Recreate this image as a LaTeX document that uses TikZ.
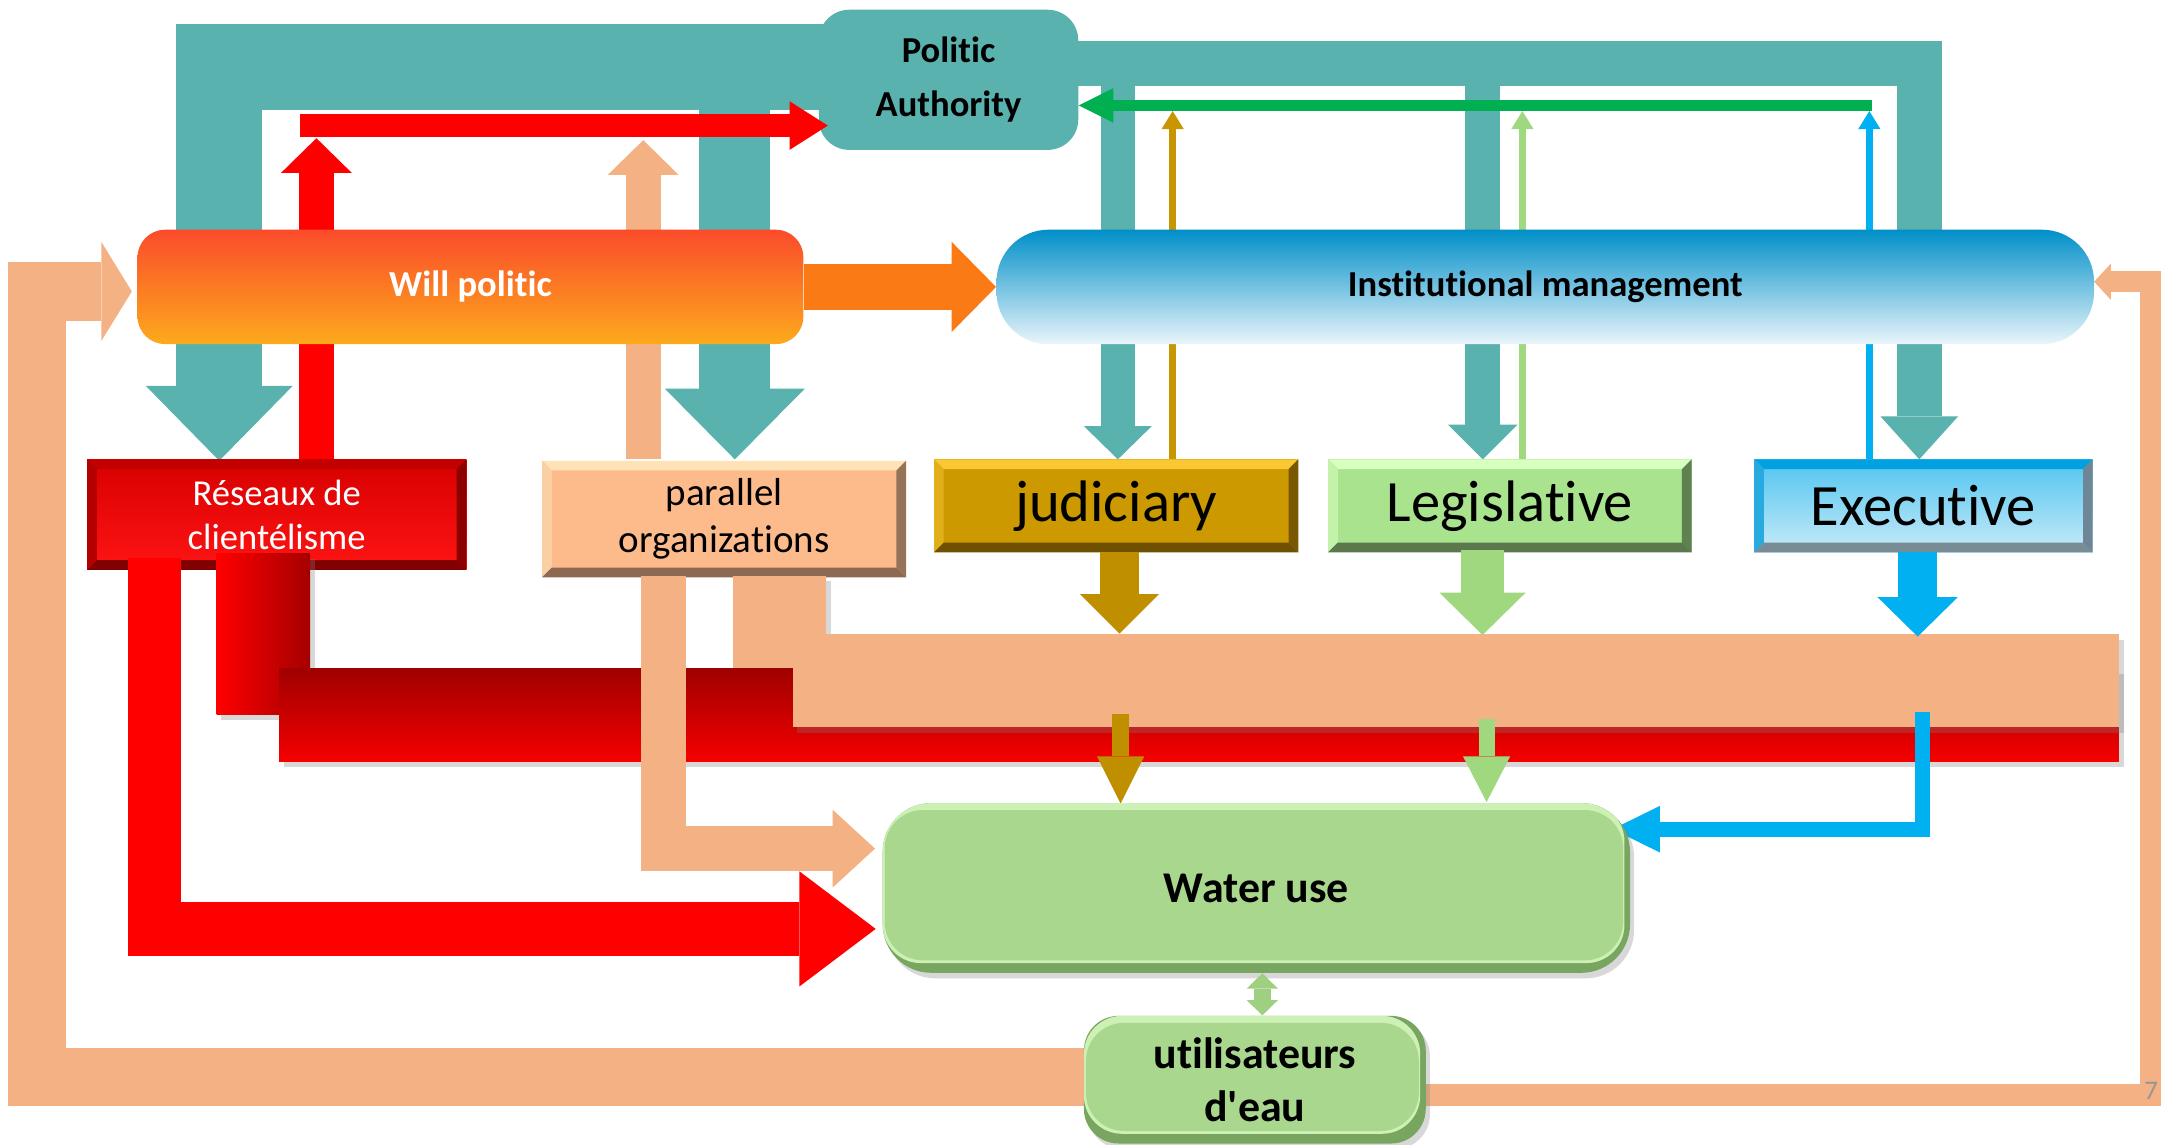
\documentclass[tikz,border=0pt]{standalone}
\usepackage{fontspec}
\setmainfont{Carlito}[Ligatures={NoCommon,NoContextual}]
\newfontfamily\plaincf{Carlito}[Ligatures={NoCommon,NoContextual}]
\usetikzlibrary{arrows.meta,shadows,calc}
\definecolor{teal1}{RGB}{89,178,174}
\definecolor{peach}{RGB}{243,177,132}
\definecolor{redA}{RGB}{255,0,0}
\definecolor{grnA}{RGB}{0,176,80}
\definecolor{goldA}{RGB}{192,143,0}
\definecolor{goldT}{RGB}{200,150,0}
\definecolor{lgrn}{RGB}{160,216,128}
\definecolor{bluA}{RGB}{0,176,240}
\definecolor{orgA}{RGB}{250,122,22}
\definecolor{wgrn}{RGB}{170,215,142}
\definecolor{wgrnD}{RGB}{120,165,95}
\definecolor{wgrnL}{RGB}{205,240,180}
\definecolor{dblA}{RGB}{159,207,128}
\definecolor{wpT}{RGB}{251,75,43}
\definecolor{wpM}{RGB}{252,122,22}
\definecolor{wpB}{RGB}{252,170,28}
\definecolor{imT}{RGB}{0,143,200}
\definecolor{imM}{RGB}{130,196,226}
\definecolor{imB}{RGB}{234,245,251}
\definecolor{resT}{RGB}{215,0,0}
\definecolor{resB}{RGB}{255,20,20}
\definecolor{resbT}{RGB}{195,0,0}
\definecolor{resbL}{RGB}{180,0,0}
\definecolor{resbB}{RGB}{130,0,0}
\definecolor{resbR}{RGB}{140,0,0}
\definecolor{parF}{RGB}{253,187,140}
\definecolor{parbT}{RGB}{255,226,182}
\definecolor{parbL}{RGB}{250,207,162}
\definecolor{parbB}{RGB}{140,105,80}
\definecolor{parbR}{RGB}{150,115,88}
\definecolor{judF}{RGB}{204,153,0}
\definecolor{judbT}{RGB}{250,200,50}
\definecolor{judbL}{RGB}{225,175,25}
\definecolor{judbB}{RGB}{110,80,0}
\definecolor{judbR}{RGB}{120,88,0}
\definecolor{legF}{RGB}{169,227,142}
\definecolor{legbT}{RGB}{215,255,190}
\definecolor{legbL}{RGB}{195,242,170}
\definecolor{legbB}{RGB}{90,120,75}
\definecolor{legbR}{RGB}{95,128,80}
\definecolor{exeT}{RGB}{80,196,240}
\definecolor{exeB}{RGB}{200,235,248}
\definecolor{exebT}{RGB}{0,160,225}
\definecolor{exebL}{RGB}{40,170,225}
\definecolor{exebB}{RGB}{120,140,150}
\definecolor{exebR}{RGB}{110,135,150}
\definecolor{redD}{RGB}{165,0,0}
\definecolor{rbT}{RGB}{160,0,0}
\definecolor{rbM}{RGB}{238,0,0}
\definecolor{rbB}{RGB}{246,0,0}
\definecolor{pgGray}{RGB}{150,150,150}
\newcommand\myfs[2]{\fontsize{#1}{#2}\selectfont}
\tikzset{
 blk/.style n args={4}{draw=#1,line width=#2,-{Triangle[width=#3,length=#4,line width=0pt]}},
 bvbox/.style={rectangle,inner sep=0pt,align=center},
 bevel/.style n args={4}{path picture={
   \fill[#1] (path picture bounding box.north west) -- (path picture bounding box.north east) -- ([shift={(-0.14cm,-0.14cm)}]path picture bounding box.north east) -- ([shift={(0.14cm,-0.14cm)}]path picture bounding box.north west) -- cycle;
   \fill[#2] (path picture bounding box.north west) -- ([shift={(0.14cm,-0.14cm)}]path picture bounding box.north west) -- ([shift={(0.14cm,0.14cm)}]path picture bounding box.south west) -- (path picture bounding box.south west) -- cycle;
   \fill[#3] (path picture bounding box.south west) -- ([shift={(0.14cm,0.14cm)}]path picture bounding box.south west) -- ([shift={(-0.14cm,0.14cm)}]path picture bounding box.south east) -- (path picture bounding box.south east) -- cycle;
   \fill[#4] (path picture bounding box.north east) -- (path picture bounding box.south east) -- ([shift={(-0.14cm,0.14cm)}]path picture bounding box.south east) -- ([shift={(-0.14cm,-0.14cm)}]path picture bounding box.north east) -- cycle;
 }},
 greenbox/.style={rectangle,fill=wgrnD,align=center,inner sep=0pt,
   drop shadow={opacity=0.3,shadow xshift=0.06cm,shadow yshift=-0.08cm},
   path picture={
     \fill[wgrnL,rounded corners=0.55cm] (path picture bounding box.north west) rectangle ([shift={(-0.08cm,0.14cm)}]path picture bounding box.south east);
     \fill[wgrn,rounded corners=0.55cm] ([shift={(0.03cm,-0.1cm)}]path picture bounding box.north west) rectangle ([shift={(-0.1cm,0.18cm)}]path picture bounding box.south east);
   }},
 shad/.style={drop shadow={opacity=0.3,shadow xshift=0.07cm,shadow yshift=-0.08cm}},
}
\begin{document}
\begin{tikzpicture}[x=0.02cm,y=-0.02cm]
\useasboundingbox (0,0) rectangle (1568,825);
\fill[white] (0,0) rectangle (1568,825);

% ---------- named coordinates for free ends ----------
\coordinate (tA) at (620,48);
\coordinate (resIn) at (158,332);
\coordinate (parTop) at (529.5,48);
\coordinate (tB) at (760,45.75);
\coordinate (legT) at (1068.5,331);
\coordinate (jUp) at (845,331);
\coordinate (lUp) at (1097,331);
\coordinate (eUp) at (1347,331);
\coordinate (gEnd) at (1349,76);
\coordinate (rUp) at (228,331);
\coordinate (rTop) at (228,99.6);
\coordinate (r2s) at (216,90.5);
\coordinate (r2e) at (596.5,90.5);
\coordinate (pUp) at (463.5,331);
\coordinate (pTop) at (463.5,101);
\coordinate (uL) at (904,776);
\coordinate (lc) at (26.75,210);
\coordinate (wpIn) at (95,210);
\coordinate (uR) at (904,789);
\coordinate (rc) at (1549.5,203);
\coordinate (imIn) at (1509,203);

% ---------- teal frames ----------
\draw[blk={teal1}{1.24cm}{2.12cm}{1.08cm}] (tA) -| (resIn);
\draw[blk={teal1}{1.02cm}{2.02cm}{1.02cm}] (parTop) -- (parTop |- 0,331);
\draw[blk={teal1}{0.65cm}{1.12cm}{0.62cm}] (tB) -| (1383,331);
\draw[blk={teal1}{0.5cm}{0.98cm}{0.48cm}] (805.5,46) -- (805.5,331);
\draw[blk={teal1}{0.5cm}{1cm}{0.5cm}] (legT |- tB) -- (legT);

% ---------- Politic Authority ----------
\node[rectangle,rounded corners=0.44cm,fill=teal1,minimum width=3.74cm,minimum height=2.02cm,align=center,inner sep=0pt,font=\plaincf\bfseries\myfs{15}{22}] (PA) at (683.5,57.5) {Politic\\Authority};

% thin up arrows
\draw[blk={goldT}{0.1cm}{0.32cm}{0.26cm}] (jUp) -- (jUp |- 0,80);
\draw[blk={lgrn}{0.1cm}{0.32cm}{0.26cm}] (lUp) -- (lUp |- 0,80);
\draw[blk={bluA}{0.1cm}{0.32cm}{0.26cm}] (eUp) -- (eUp |- 0,80);
\draw[blk={grnA}{0.16cm}{0.5cm}{0.5cm}] (gEnd) -- (PA.east |- gEnd);

% red and peach up arrows
\draw[blk={redA}{0.51cm}{1.02cm}{0.5cm}] (rUp) -- (rTop);
\draw[blk={redA}{0.34cm}{0.7cm}{0.55cm}] (r2s) -- (r2e);
\draw[blk={peach}{0.5cm}{1.02cm}{0.5cm}] (pUp) -- (pTop);

% peach feedback loops
\draw[blk={peach}{0.84cm}{1.43cm}{0.44cm}] (uL) -| (lc) -- (wpIn);
\draw[blk={peach}{0.31cm}{0.52cm}{0.24cm}] (uR) -| (rc) -- (imIn);

% ---------- Will politic / Institutional management ----------
\node[rectangle,rounded corners=0.4cm,minimum width=9.6cm,minimum height=1.65cm,inner sep=0pt,
  top color=wpT,middle color=wpM,bottom color=wpB,
  text=white,font=\plaincf\bfseries\myfs{15}{18}] (WP) at (339,206.75) {Will politic};
\node[rectangle,rounded corners=0.75cm,minimum width=15.82cm,minimum height=1.65cm,inner sep=0pt,
  top color=imT,middle color=imM,bottom color=imB,
  font=\plaincf\bfseries\myfs{15}{18}] (IM) at (1113.5,206.75) {Institutional management};
\draw[blk={orgA}{0.66cm}{1.3cm}{0.64cm}] (WP.east) -- (IM.west);

% ---------- five bevelled boxes ----------
\node[bvbox,minimum width=5.466cm,minimum height=1.594cm,top color=resT,bottom color=resB,
  bevel={resbT}{resbL}{resbB}{resbR},
  text=white,font=\plaincf\myfs{15}{18}] (RES) at (199.35,370.85) {Réseaux de\\clientélisme};
\node[bvbox,minimum width=5.248cm,minimum height=1.68cm,fill=parF,
  bevel={parbT}{parbL}{parbB}{parbR},
  font=\plaincf\myfs{16}{19.3}] (PAR) at (521.8,374) {parallel\\organizations};
\node[bvbox,minimum width=5.252cm,minimum height=1.34cm,fill=judF,
  bevel={judbT}{judbL}{judbB}{judbR},
  font=\plaincf\myfs{24}{28}] (JUD) at (804.3,364.5) {\raisebox{-2pt}{judiciary}};
\node[bvbox,minimum width=5.24cm,minimum height=1.34cm,fill=legF,
  bevel={legbT}{legbL}{legbB}{legbR},
  font=\plaincf\myfs{24}{28}] (LEG) at (1088,364.5) {\raisebox{-2pt}{Legislative}};
\node[bvbox,minimum width=4.88cm,minimum height=1.34cm,top color=exeT,bottom color=exeB,
  bevel={exebT}{exebL}{exebB}{exebR},
  font=\plaincf\myfs{24}{28}] (EXE) at (1386,364.5) {\raisebox{-2pt}{Executive}};

% ---------- bars ----------
\node[rectangle,inner sep=0pt,minimum width=1.34cm,minimum height=1.34cm,fill=peach,shad] (PV) at (561.5,448.5) {};
\node[rectangle,inner sep=0pt,minimum width=1.35cm,minimum height=2.32cm,left color=redA,right color=redD,shad] (RV) at (189.75,457) {};
\node[rectangle,inner sep=0pt,minimum width=26.52cm,minimum height=1.34cm,shad,
  top color=rbT,middle color=rbM,bottom color=rbB] (RB) at (864,515.5) {};
\node[rectangle,inner sep=0pt,minimum width=19.12cm,minimum height=1.34cm,fill=peach,shad] (PB) at (1049,490.5) {};

% ---------- big L arrows ----------
\draw[blk={redA}{0.77cm}{1.66cm}{1.1cm}] (111.2,402) |- (631,669.35);
\draw[blk={peach}{0.64cm}{1.12cm}{0.61cm}] (478,415) |- (630.5,611.5);

% ---------- arrows from the three powers ----------
\draw[blk={goldA}{0.57cm}{1.14cm}{0.57cm}] (806.75,398) -- (806.75,456.6);
\draw[blk={lgrn}{0.61cm}{1.24cm}{0.61cm}] (1068.3,396) -- (1068.3,457.6);
\draw[blk={bluA}{0.57cm}{1.16cm}{0.57cm}] (1381.85,398) -- (1381.85,458.7);
\draw[blk={goldA}{0.24cm}{0.68cm}{0.68cm}] (807.5,514.6) -- (807.5,579);
\draw[blk={lgrn}{0.23cm}{0.68cm}{0.66cm}] (1071.2,518) -- (1071.2,578);
\draw[blk={bluA}{0.22cm}{0.67cm}{0.68cm}] (1385.5,513) |- (1162,597.5);

% ---------- water use and users ----------
\node[greenbox,rounded corners=0.7cm,minimum width=10.772cm,minimum height=2.446cm,font=\plaincf\bfseries\myfs{18}{21.6}] (WATER) at (905.3,639.85) {Water use};
\node[greenbox,rounded corners=0.5cm,minimum width=4.928cm,minimum height=1.84cm,font=\plaincf\bfseries\myfs{18}{21.6}] (USR) at (904.2,778) {utilisateurs\\d'eau};
\draw[line width=0.24cm,draw=dblA,{Triangle[width=0.45cm,length=0.22cm,line width=0pt]}-{Triangle[width=0.45cm,length=0.22cm,line width=0pt]}] (WATER.south -| 909.6,0) -- (USR.north -| 909.6,0);

\node[text=pgGray,font=\plaincf\myfs{11}{13}] (pg) at (1550,786) {7};
\end{tikzpicture}
\end{document}
